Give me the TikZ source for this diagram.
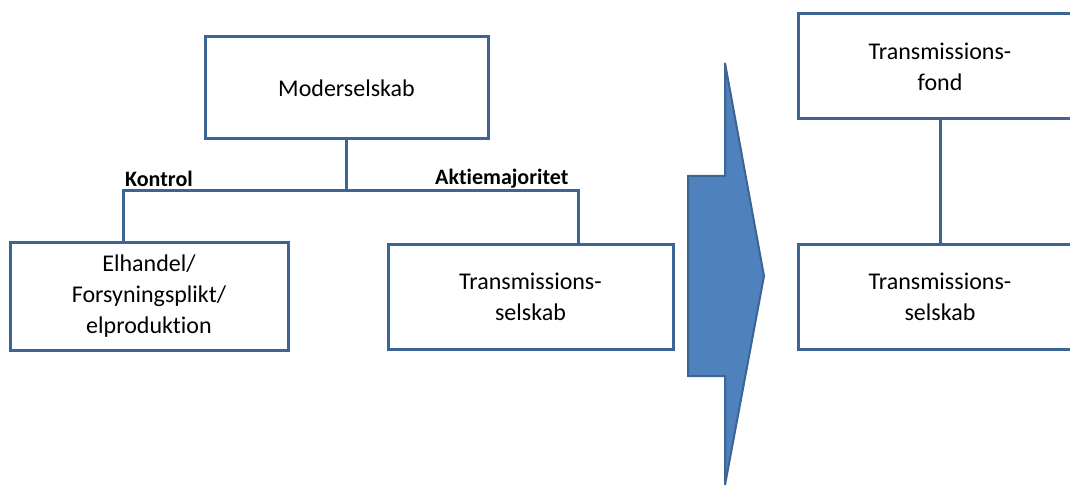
\documentclass[tikz,border=0pt]{standalone}
\usepackage{fontspec}
\setmainfont{Carlito}[Ligatures=NoCommon]
\usepackage{tikz}

\definecolor{boxblue}{HTML}{3D6594}
\definecolor{arrowfill}{HTML}{4F81BD}

\tikzset{
  orgbox/.style={draw=boxblue, line width=3pt, fill=white, align=center,
    inner sep=0pt, font=\fontsize{24}{31}\selectfont},
  link/.style={draw=boxblue, line width=3pt},
  tag/.style={font=\bfseries\fontsize{22}{26}\selectfont, inner sep=0pt}
}

\begin{document}
\begin{tikzpicture}[x=1pt, y=-1pt]
    \useasboundingbox (0,0) rectangle (1070,486);
    % Left side: the group before
    \node[orgbox, minimum width=283, minimum height=102] (moder) at (346.5,88) {Moderselskab};
    \node[orgbox, minimum width=278, minimum height=107] (elhandel) at (149,296.5)
      {Elhandel/\\Forsyningsplikt/\\elproduktion};
    \node[orgbox, minimum width=285, minimum height=104] (transm) at (530.5,297)
      {Transmissions-\\selskab};
    % Branch points of the tree
    \coordinate (jL) at (123,191);
    \coordinate (jR) at (578,191);
    \draw[link] (moder.south) -- (moder.south |- jL);
    \draw[link] (elhandel.north -| jL) -- (jL) -- (jR) -- (jR |- transm.north);
    \node[tag, anchor=base west] (kontrol) at (125,187) {Kontrol};
    \node[tag, anchor=base west] (aktie) at (435,185) {Aktiemajoritet};
    % The big arrow in the middle
    \draw[fill=arrowfill, draw=boxblue, line width=2pt]
      (688,176) -- (725,176) -- (725,63) -- (764,276) -- (725,485)
      -- (725,376) -- (688,376) -- cycle;
    % Right side: the group after
    \node[orgbox, minimum width=284, minimum height=105] (fond) at (940,66.5)
      {Transmissions-\\fond};
    \node[orgbox, minimum width=284, minimum height=104] (transmny) at (940,297)
      {Transmissions-\\selskab};
    \draw[link] (fond.south) -- (transmny.north);
  \end{tikzpicture}
\end{document}
